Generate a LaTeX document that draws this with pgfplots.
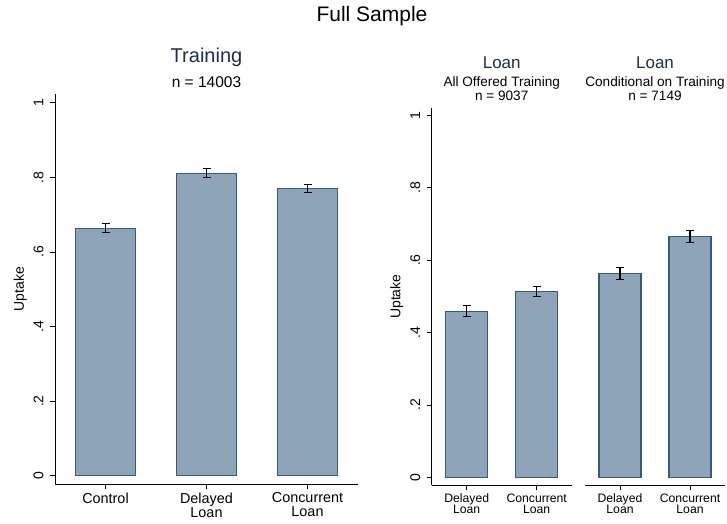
\documentclass[border=0pt]{standalone}
\usepackage{pgfplots}
\pgfplotsset{compat=1.18}
\usepackage{fontspec}
\setmainfont{Liberation Sans}

\definecolor{barfill}{RGB}{141,164,185}
\definecolor{barline}{RGB}{55,90,127}
\definecolor{titleblue}{RGB}{30,45,85}

\pgfplotsset{
  stpanel/.style={
    scale only axis,
    anchor=south west,
    axis y line*=left,
    axis x line*=bottom,
    axis line style={black, line width=0.8pt},
    tick align=outside,
    major tick length=5pt,
    tick style={black, line width=0.8pt},
    xtick=data,
    ytick={0,0.2,0.4,0.6,0.8,1},
    yticklabels={0,.2,.4,.6,.8,1},
    yticklabel style={rotate=90, anchor=south, yshift=3pt, font=\fontsize{14}{14}\selectfont},
    ylabel={Uptake},
    ylabel style={font=\fontsize{14}{14}\selectfont},
    xticklabel style={align=center},
    clip=false,
  },
  stbar/.style={
    ybar, bar width=0.6, fill=barfill, draw=barline, line width=1.1pt,
    error bars/.cd, y dir=both, y explicit,
    error bar style={black, line width=1.1pt},
    error mark options={rotate=90, mark size=4pt, line width=1.1pt, black},
  },
}

\begin{document}
\begin{tikzpicture}[x=1pt,y=1pt]
\useasboundingbox (0,0) rectangle (727,523);

% overall title
\node[font=\fontsize{21}{21}\selectfont] at (372,507) {Full Sample};

% left panel: training uptake
\begin{axis}[stpanel,
    at={(55pt,38.7pt)}, width=303pt, height=390pt,
    xmin=-0.5, xmax=2.5, ymin=-0.023, ymax=1.023,
    xticklabels={Control, {Delayed\\Loan}, {Concurrent\\Loan}},
    xticklabel style={font=\fontsize{14.4}{14}\selectfont},
    ylabel style={yshift=0pt},
  ]
  \addplot[stbar] coordinates {
    (0,0.664) +- (0,0.0125)
    (1,0.811) +- (0,0.012)
    (2,0.770) +- (0,0.011)
  };
\end{axis}
\node[font=\fontsize{20}{20}\selectfont, text=titleblue] at (206.5,466) {Training};
\node[font=\fontsize{15.5}{15.5}\selectfont] at (206.5,441.3) {n = 14003};

% middle panel: loan uptake, all offered training
\begin{axis}[stpanel,
    at={(431.7pt,38pt)}, width=140pt, height=376.7pt,
    xmin=-0.5, xmax=1.5, ymin=-0.021, ymax=1.019,
    xticklabels={{Delayed\\Loan}, {Concurrent\\Loan}},
    xticklabel style={font=\fontsize{12.2}{11}\selectfont},
    ylabel style={yshift=0pt},
  ]
  \addplot[stbar] coordinates {
    (0,0.459) +- (0,0.0156)
    (1,0.514) +- (0,0.014)
  };
\end{axis}
\node[font=\fontsize{17}{17}\selectfont, text=titleblue] at (501.7,460.3) {Loan};
\node[font=\fontsize{13.6}{13.6}\selectfont] at (501.7,439.7) {All Offered Training};
\node[font=\fontsize{13.6}{13.6}\selectfont] at (501.7,427) {n = 9037};

% right panel: loan uptake, conditional on training
\begin{axis}[stpanel,
    at={(585pt,38pt)}, width=140pt, height=376.7pt,
    xmin=-0.5, xmax=1.5, ymin=-0.021, ymax=1.019,
    axis y line=none, ylabel={},
    xticklabels={{Delayed\\Loan}, {Concurrent\\Loan}},
    xticklabel style={font=\fontsize{12.2}{11}\selectfont},
  ]
  \addplot[stbar] coordinates {
    (0,0.5635) +- (0,0.0166)
    (1,0.6646) +- (0,0.016)
  };
\end{axis}
\node[font=\fontsize{17}{17}\selectfont, text=titleblue] at (655,460.3) {Loan};
\node[font=\fontsize{13.6}{13.6}\selectfont] at (655,439.7) {Conditional on Training};
\node[font=\fontsize{13.6}{13.6}\selectfont] at (655,427) {n = 7149};
\end{tikzpicture}
\end{document}
